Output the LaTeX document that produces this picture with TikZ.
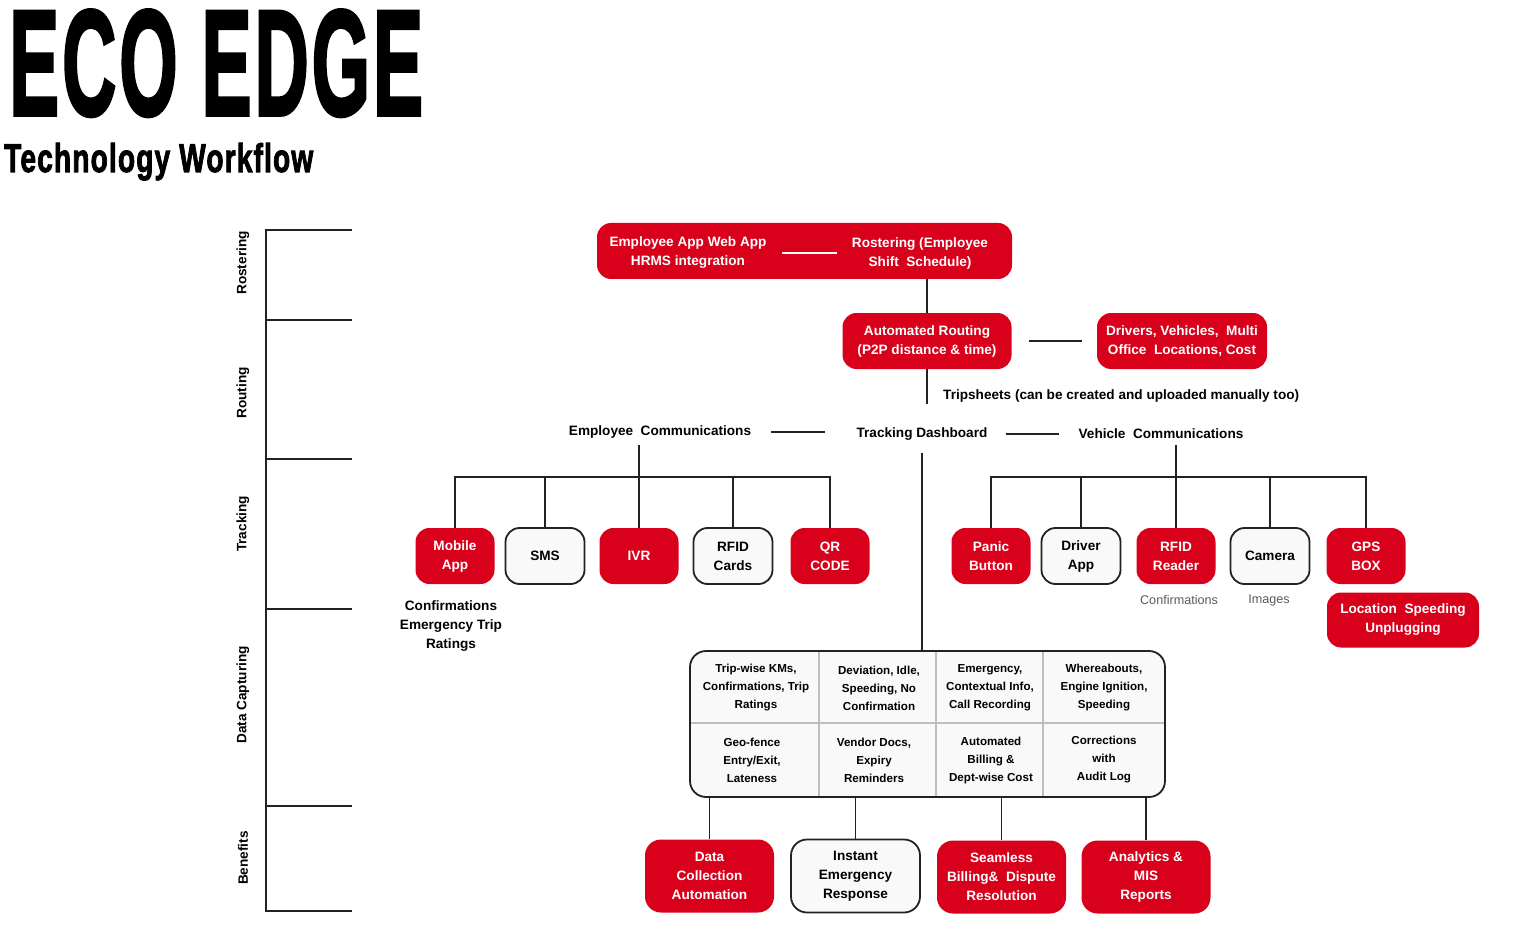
\documentclass[tikz,border=0pt]{standalone}
\usepackage{fontspec}
\setmainfont{Liberation Sans}
\newfontfamily\titlefont{Liberation Sans Bold}[FakeBold=2.5, LetterSpace=4]
\usepackage{xcolor}

\definecolor{ecored}{RGB}{216,0,27}
\definecolor{ecoline}{RGB}{34,34,34}
\definecolor{cellgray}{RGB}{190,190,190}
\definecolor{notegray}{RGB}{90,90,90}
\definecolor{cellfill}{RGB}{249,249,249}

\tikzset{
	boxtext/.style={font=\fontsize{13.6}{19}\selectfont\bfseries, align=center, inner sep=0pt},
	redbox/.style={boxtext, fill=ecored, text=white, rounded corners=14pt, minimum width=79pt, minimum height=56pt},
	whitebox/.style={boxtext, draw=ecoline, line width=1.8pt, fill=cellfill, text=black, rounded corners=14pt, minimum width=79pt, minimum height=56pt},
	bigbox/.style={minimum width=129pt, minimum height=73pt, rounded corners=16pt},
	celltext/.style={font=\fontsize{11.6}{18}\selectfont\bfseries, align=center, inner sep=0pt},
	note/.style={font=\fontsize{12.6}{16}\selectfont, text=notegray, inner sep=0pt},
	phase/.style={boxtext, rotate=90},
	link/.style={draw=ecoline, line width=1.8pt},
	cellline/.style={draw=cellgray, line width=1.5pt},
}

\begin{document}
\begin{tikzpicture}[x=1pt,y=-1pt]
	\useasboundingbox (0,0) rectangle (1520,933);

	\node[anchor=base west, inner sep=0pt] (title) at (9,115) {\resizebox{414pt}{105pt}{\titlefont ECO EDGE}};
	\node[anchor=base west, inner sep=0pt] (subtitle) at (4,172) {\resizebox{309pt}{29pt}{\titlefont Technology Workflow}};

	% phases on the left
	\draw[link] (352,230) -- (266,230) -- (266,911) -- (352,911);
	\foreach \y in {320,459,609,806} \draw[link] (266,\y) -- (352,\y);
	\node[phase] (ph1) at (243,263) {Rostering};
	\node[phase] (ph2) at (243,393) {Routing};
	\node[phase] (ph3) at (243,524) {Tracking};
	\node[phase] (ph4) at (243,695) {Data Capturing};
	\node[phase] (ph5) at (243,858) {Benefits};

	% rostering and routing
	\node[redbox, minimum width=415pt] (topbox) at (804.5,251) {};
	\node[boxtext, text=white] (empapp) at (688,253) {Employee App Web App\\HRMS integration};
	\node[boxtext, text=white] (roster) at (920,253) {Rostering (Employee\\Shift~ Schedule)};
	\draw[white, line width=1.8pt, shorten <=15pt, shorten >=15pt] (empapp) -- (roster);

	\node[redbox, minimum width=169pt] (routing) at (927,341) {Automated Routing\\(P2P distance \& time)};
	\node[redbox, minimum width=170pt] (drivers) at (1182,341) {Drivers, Vehicles,~ Multi\\Office~ Locations, Cost};
	\draw[link] (topbox.south -| routing.north) -- (routing.north);
	\draw[link, shorten <=17pt, shorten >=15pt] (routing) -- (drivers);

	% tracking
	\node[boxtext] (dash) at (922,434) {Tracking Dashboard};
	\node[boxtext, anchor=west] (trip) at (943,396) {Tripsheets (can be created and uploaded manually too)};
	\draw[link, shorten >=23pt] (routing.south) -- (routing.south |- dash.north);
	\node[boxtext] (empcomm) at (660,432) {Employee~ Communications};
	\node[boxtext] (vehcomm) at (1161,434) {Vehicle~ Communications};
	\draw[link, shorten <=20pt, shorten >=31pt] (empcomm.east) -- (empcomm.east -| dash.west);
	\draw[link, shorten <=18pt, shorten >=19pt] (dash.east) -- (dash.east -| vehcomm.west);
	\coordinate (bar) at (0,477);

	\node[redbox] (mobile) at (455,556) {Mobile\\App};
	\node[whitebox] (sms) at (545,556) {SMS};
	\node[redbox] (ivr) at (639,556) {IVR};
	\node[whitebox] (rfidc) at (733,556) {RFID\\Cards};
	\node[redbox] (qr) at (830,556) {QR\\CODE};
	\draw[link, shorten >=6pt] (ivr.north) -- (ivr.north |- empcomm.south);
	\draw[link] (mobile.north) |- (bar -| qr.north) -- (qr.north);
	\foreach \b in {sms,rfidc} \draw[link] (\b.north) -- (\b.north |- bar);
	\node[boxtext] (mobnote) at (451,626) {Confirmations\\Emergency Trip\\Ratings};

	\node[redbox] (panic) at (991,556) {Panic\\Button};
	\node[whitebox] (drvapp) at (1081,556) {Driver\\App};
	\node[redbox] (rfidr) at (1176,556) {RFID\\Reader};
	\node[whitebox] (camera) at (1270,556) {Camera};
	\node[redbox] (gps) at (1366,556) {GPS\\BOX};
	\draw[link, shorten >=6pt] (rfidr.north) -- (rfidr.north |- vehcomm.south);
	\draw[link] (panic.north) |- (bar -| gps.north) -- (gps.north);
	\foreach \b in {drvapp,camera} \draw[link] (\b.north) -- (\b.north |- bar);
	\node[note] (rfidnote) at (1179,600) {Confirmations};
	\node[note] (camnote) at (1269,600) {Images};
	\node[redbox, minimum width=152pt, minimum height=55pt] (gpsinfo) at (1403,620) {Location~ Speeding\\Unplugging};

	% data capturing
	\node[draw=ecoline, line width=1.8pt, fill=cellfill, rounded corners=16pt, minimum width=475pt, minimum height=146pt] (grid) at (927.5,724) {};
	\foreach \x in {819,936,1043} \draw[cellline] (\x,652) -- (\x,796);
	\draw[cellline] (691,723) -- (1164,723);
	\draw[link, shorten <=12pt] (dash.south) -- (dash.south |- grid.north);
	\node[celltext] (c11) at (756,688) {Trip-wise KMs,\\Confirmations, Trip\\Ratings};
	\node[celltext] (c12) at (879,688) {Deviation, Idle,\\Speeding, No\\Confirmation};
	\node[celltext] (c13) at (990,688) {Emergency,\\Contextual Info,\\Call Recording};
	\node[celltext] (c14) at (1104,688) {Whereabouts,\\Engine Ignition,\\Speeding};
	\node[celltext] (c21) at (752,760) {Geo-fence\\Entry/Exit,\\Lateness};
	\node[celltext] (c22) at (874,760) {Vendor Docs,\\Expiry\\Reminders};
	\node[celltext] (c23) at (991,760) {Automated\\Billing \&\\Dept-wise Cost};
	\node[celltext] (c24) at (1104,760) {Corrections\\with\\Audit Log};

	% benefits
	\node[redbox, bigbox] (datacol) at (709.5,876) {Data\\Collection\\Automation};
	\node[whitebox, bigbox] (instant) at (855.5,876) {Instant\\Emergency\\Response};
	\node[redbox, bigbox] (billing) at (1001.5,877) {Seamless\\Billing\&~ Dispute\\Resolution};
	\node[redbox, bigbox] (analytics) at (1146,877) {Analytics \&\\MIS\\Reports};
	\foreach \b in {datacol,instant,billing,analytics} \draw[link] (\b.north) -- (\b.north |- grid.south);
\end{tikzpicture}
\end{document}
